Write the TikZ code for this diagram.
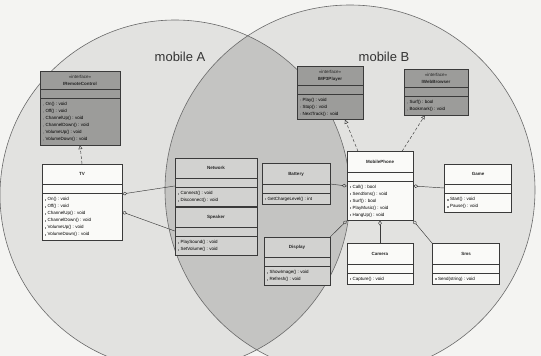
\documentclass[tikz,border=0pt]{standalone}
\usepackage{fontspec}
\setsansfont{Liberation Sans}
\usetikzlibrary{arrows.meta,shapes.multipart}
\definecolor{vennpaper}{HTML}{F4F4F2}
\definecolor{vennlight}{HTML}{E2E2E0}
\definecolor{venndark}{HTML}{C4C4C2}
\definecolor{vennedge}{HTML}{6A6A6A}
\definecolor{umlline}{HTML}{3A3A3A}
\definecolor{umliface}{HTML}{9C9C9A}
\definecolor{umlshared}{HTML}{D2D2D0}
\definecolor{umlclass}{HTML}{FAFAF8}
\newcommand{\umlop}[1]{\textcolor{umlline!60}{\rule{1.8pt}{1.8pt}}~#1}
\newcommand{\umlhead}[1]{\rule[-6.5pt]{0pt}{16pt}\textbf{#1}}

\begin{document}
\begin{tikzpicture}[x=1pt, y=-1pt,
  umlbox/.style={rectangle split, rectangle split parts=3, rectangle split part align={center,left,left},
    rectangle split empty part height=1pt, draw=umlline, line width=0.5pt, fill=#1,
    inner xsep=2.5pt, inner ysep=2pt, font=\fontsize{4.5}{7}\selectfont\sffamily, text=black!85},
  realize/.style={densely dashed, -{Triangle[open, length=4pt, width=4pt]}, umlline, line width=0.45pt},
  assoc/.style={{Diamond[open, length=5pt, width=3.5pt]}-, umlline, line width=0.45pt},
  setlabel/.style={font=\fontsize{13}{15}\selectfont\sffamily, text=black!80}
]
  \useasboundingbox (0,0) rectangle (541,356);
  \fill[vennpaper] (0,0) rectangle (541,356);

  % the two sets
  \begin{scope}
    \clip (0,0) rectangle (541,356);
    \fill[vennlight] (175,195) circle[radius=175pt];
    \fill[vennlight] (350,190) circle[radius=185pt];
    \begin{scope}
      \clip (175,195) circle[radius=175pt];
      \fill[venndark] (350,190) circle[radius=185pt];
    \end{scope}
    \draw[vennedge, line width=0.6pt] (175,195) circle[radius=175pt];
    \draw[vennedge, line width=0.6pt] (350,190) circle[radius=185pt];
  \end{scope}

  \node[setlabel] (labelA) at (180,57) {mobile A};
  \node[setlabel] (labelB) at (384,57) {mobile B};

  % mobile A
  \node[umlbox=umliface, minimum width=80pt] (iremote) at (80,108)
    {\begin{tabular}{@{}c@{}}«interface»\\\textbf{IRemoteControl}\end{tabular}
     \nodepart{second}
     \nodepart{third}\begin{tabular}{@{}l@{}}\umlop{On() : void}\\\umlop{Off() : void}\\\umlop{ChannelUp() : void}\\\umlop{ChannelDown() : void}\\\umlop{VolumeUp() : void}\\\umlop{VolumeDown() : void}\end{tabular}};
  \node[umlbox=umlclass, minimum width=80pt] (tv) at (82,202)
    {\umlhead{TV}
     \nodepart{second}
     \nodepart{third}\begin{tabular}{@{}l@{}}\umlop{On() : void}\\\umlop{Off() : void}\\\umlop{ChannelUp() : void}\\\umlop{ChannelDown() : void}\\\umlop{VolumeUp() : void}\\\umlop{VolumeDown() : void}\end{tabular}};

  % shared
  \node[umlbox=umlshared, minimum width=82pt] (network) at (216,182)
    {\umlhead{Network}
     \nodepart{second}
     \nodepart{third}\begin{tabular}{@{}l@{}}\umlop{Connect() : void}\\\umlop{Disconnect() : void}\end{tabular}};
  \node[umlbox=umlshared, minimum width=82pt] (speaker) at (216,231)
    {\umlhead{Speaker}
     \nodepart{second}
     \nodepart{third}\begin{tabular}{@{}l@{}}\umlop{PlaySound() : void}\\\umlop{SetVolume() : void}\end{tabular}};
  \node[umlbox=umlshared, minimum width=68pt] (battery) at (296,184)
    {\umlhead{Battery}
     \nodepart{second}
     \nodepart{third}\begin{tabular}{@{}l@{}}\umlop{GetChargeLevel() : int}\end{tabular}};
  \node[umlbox=umlshared, minimum width=66pt] (display) at (297,261)
    {\umlhead{Display}
     \nodepart{second}
     \nodepart{third}\begin{tabular}{@{}l@{}}\umlop{ShowImage() : void}\\\umlop{Refresh() : void}\end{tabular}};

  % mobile B
  \node[umlbox=umliface, minimum width=66pt] (imp3) at (330,93)
    {\begin{tabular}{@{}c@{}}«interface»\\\textbf{IMP3Player}\end{tabular}
     \nodepart{second}
     \nodepart{third}\begin{tabular}{@{}l@{}}\umlop{Play() : void}\\\umlop{Stop() : void}\\\umlop{NextTrack() : void}\end{tabular}};
  \node[umlbox=umliface, minimum width=64pt] (iweb) at (436,92)
    {\begin{tabular}{@{}c@{}}«interface»\\\textbf{IWebBrowser}\end{tabular}
     \nodepart{second}
     \nodepart{third}\begin{tabular}{@{}l@{}}\umlop{Surf() : bool}\\\umlop{Bookmark() : void}\end{tabular}};
  \node[umlbox=umlclass, minimum width=66pt] (phone) at (380,186)
    {\umlhead{MobilePhone}
     \nodepart{second}
     \nodepart{third}\begin{tabular}{@{}l@{}}\umlop{Call() : bool}\\\umlop{SendSms() : void}\\\umlop{Surf() : bool}\\\umlop{PlayMusic() : void}\\\umlop{HangUp() : void}\end{tabular}};
  \node[umlbox=umlclass, minimum width=67pt] (game) at (478,188)
    {\umlhead{Game}
     \nodepart{second}
     \nodepart{third}\begin{tabular}{@{}l@{}}\umlop{Start() : void}\\\umlop{Pause() : void}\end{tabular}};
  \node[umlbox=umlclass, minimum width=66pt] (camera) at (380,264)
    {\umlhead{Camera}
     \nodepart{second}
     \nodepart{third}\begin{tabular}{@{}l@{}}\umlop{Capture() : void}\end{tabular}};
  \node[umlbox=umlclass, minimum width=67pt] (sms) at (466,264)
    {\umlhead{Sms}
     \nodepart{second}
     \nodepart{third}\begin{tabular}{@{}l@{}}\umlop{Send(string) : void}\end{tabular}};

  \draw[realize] (tv.north) -- (iremote.south);
  \draw[assoc] ([yshift=8pt]tv.east) -- ([yshift=-4pt]network.west);
  \draw[assoc] ([yshift=-10pt]tv.east) -- (speaker.west);

  \draw[realize] ([xshift=-22pt]phone.north) -- ([xshift=15pt]imp3.south);
  \draw[realize] ([xshift=22pt]phone.north) -- ([xshift=-11pt]iweb.south);
  \draw[assoc] (phone.west) -- (battery.east);
  \draw[assoc] (phone.east) -- (game.west);
  \draw[assoc] (phone.south west) -- (display.north east);
  \draw[assoc] (phone.south) -- (camera.north);
  \draw[assoc] (phone.south east) -- (sms.north west);
\end{tikzpicture}
\end{document}
